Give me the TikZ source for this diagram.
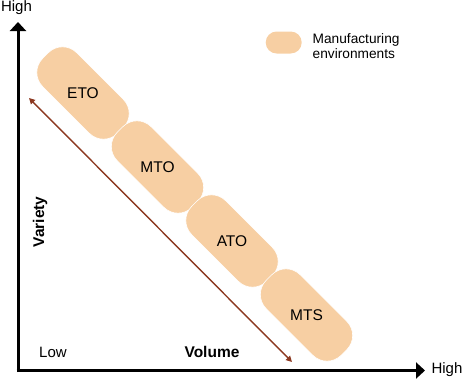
\documentclass[tikz,border=0pt]{standalone}
\usepackage{fontspec}
\setmainfont{Liberation Sans}
\usetikzlibrary{arrows.meta}
\definecolor{peach}{RGB}{247,207,163}
\definecolor{rust}{RGB}{140,56,32}
\tikzset{
  capsule/.style={fill=peach, draw=white, line width=0.6pt, rounded corners=20pt,
    minimum width=106pt, minimum height=48pt, inner sep=0pt, rotate=-45},
  lbl/.style={font=\fontsize{15.5}{18}\selectfont, inner sep=0pt},
  axlbl/.style={font=\fontsize{15}{18}\selectfont, inner sep=0pt},
  boldlbl/.style={font=\fontsize{15.5}{18}\selectfont\bfseries, inner sep=0pt},
  axis/.style={line width=3pt, -{Triangle[width=16pt,length=9pt]}},
  trend/.style={rust, line width=1.4pt, {Triangle[width=6pt,length=6pt]}-{Triangle[width=6pt,length=6pt]}},
}
\begin{document}
\begin{tikzpicture}[x=1pt,y=-1pt]
\useasboundingbox (0,0) rectangle (463,380);
% capsules
\node[capsule] (eto) at (83,93) {};
\node[capsule] (mto) at (157.5,167) {};
\node[capsule] (ato) at (232,241) {};
\node[capsule] (mts) at (306.5,315) {};
\node[lbl] at (eto.center) {ETO};
\node[lbl] at (mto.center) {MTO};
\node[lbl] at (ato.center) {ATO};
\node[lbl] at (mts.center) {MTS};
% axes
\coordinate (orig) at (18,370.5);
\coordinate (ytop) at (18,22);
\coordinate (xend) at (425,370.5);
\draw[axis] ([yshift=-1.5pt]orig) -- (ytop);
\draw[axis] ([xshift=-1.5pt]orig) -- (xend);
\node[axlbl] (yhigh) at (16.5,8) {High};
\node[axlbl] (xhigh) at (447,370) {High};
\node[axlbl] (low) at (53,352) {Low};
\node[boldlbl] (vol) at (212,352) {Volume};
\node[boldlbl, rotate=90] (var) at (40,222) {Variety};
% trend arrow
\coordinate (ta) at (29,98);
\coordinate (tb) at (292,362);
\draw[trend] (ta) -- (tb);
% legend
\node[fill=peach, rounded corners=11pt, minimum width=36pt, minimum height=22pt, inner sep=0pt] (sw) at (283.7,42.5) {};
\node[font=\fontsize{13.7}{15}\selectfont, align=left, anchor=west, inner sep=0pt] (legtxt) at (312.5,46.5) {Manufacturing\\environments};
\end{tikzpicture}
\end{document}
